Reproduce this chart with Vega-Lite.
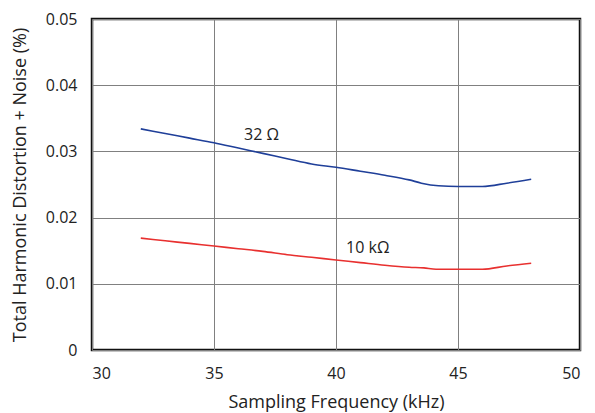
{
  "$schema": "https://vega.github.io/schema/vega-lite/v6.json",
  "width": 488,
  "height": 331,
  "autosize": {"type": "none"},
  "padding": {"left": 92, "top": 19, "right": 15, "bottom": 63},
  "background": "white",
  "config": {
    "view": {"stroke": "#111111", "strokeWidth": 2.5},
    "font": "Open Sans",
    "axis": {
      "grid": true,
      "gridColor": "#808080",
      "gridWidth": 1,
      "gridOpacity": 1,
      "domain": false,
      "ticks": false,
      "labelFont": "Open Sans",
      "labelFontSize": 16,
      "labelColor": "#222222",
      "titleFont": "Open Sans",
      "titleFontSize": 18,
      "titleFontWeight": "normal",
      "titleColor": "#222222"
    }
  },
  "datasets": {
    "curves": [
      {"freq": 32, "thd": 0.0334, "load": "32 Ω"},
      {"freq": 33, "thd": 0.0327, "load": "32 Ω"},
      {"freq": 34, "thd": 0.0320, "load": "32 Ω"},
      {"freq": 35, "thd": 0.0313, "load": "32 Ω"},
      {"freq": 36, "thd": 0.0305, "load": "32 Ω"},
      {"freq": 37, "thd": 0.0297, "load": "32 Ω"},
      {"freq": 38, "thd": 0.0289, "load": "32 Ω"},
      {"freq": 39, "thd": 0.0281, "load": "32 Ω"},
      {"freq": 40, "thd": 0.0276, "load": "32 Ω"},
      {"freq": 41, "thd": 0.0270, "load": "32 Ω"},
      {"freq": 42, "thd": 0.0264, "load": "32 Ω"},
      {"freq": 43, "thd": 0.0257, "load": "32 Ω"},
      {"freq": 43.5, "thd": 0.0252, "load": "32 Ω"},
      {"freq": 44.2, "thd": 0.0248, "load": "32 Ω"},
      {"freq": 45, "thd": 0.0247, "load": "32 Ω"},
      {"freq": 46, "thd": 0.0247, "load": "32 Ω"},
      {"freq": 47, "thd": 0.0252, "load": "32 Ω"},
      {"freq": 48, "thd": 0.0258, "load": "32 Ω"},
      {"freq": 32, "thd": 0.0169, "load": "10 kΩ"},
      {"freq": 33, "thd": 0.0165, "load": "10 kΩ"},
      {"freq": 34, "thd": 0.0161, "load": "10 kΩ"},
      {"freq": 35, "thd": 0.0157, "load": "10 kΩ"},
      {"freq": 36, "thd": 0.0153, "load": "10 kΩ"},
      {"freq": 37, "thd": 0.0149, "load": "10 kΩ"},
      {"freq": 38, "thd": 0.0144, "load": "10 kΩ"},
      {"freq": 39, "thd": 0.0140, "load": "10 kΩ"},
      {"freq": 40, "thd": 0.0136, "load": "10 kΩ"},
      {"freq": 41, "thd": 0.0132, "load": "10 kΩ"},
      {"freq": 42, "thd": 0.0128, "load": "10 kΩ"},
      {"freq": 43, "thd": 0.0125, "load": "10 kΩ"},
      {"freq": 43.6, "thd": 0.0124, "load": "10 kΩ"},
      {"freq": 44.1, "thd": 0.0122, "load": "10 kΩ"},
      {"freq": 45, "thd": 0.0122, "load": "10 kΩ"},
      {"freq": 46, "thd": 0.0122, "load": "10 kΩ"},
      {"freq": 47, "thd": 0.0127, "load": "10 kΩ"},
      {"freq": 48, "thd": 0.0131, "load": "10 kΩ"}
    ],
    "labels": [
      {"freq": 36.95, "thd": 0.0325, "text": "32 Ω"},
      {"freq": 41.3, "thd": 0.0154, "text": "10 kΩ"}
    ]
  },
  "layer": [
    {
      "data": {"name": "curves"},
      "mark": {"type": "line", "strokeWidth": 1.6, "interpolate": "monotone"},
      "encoding": {
        "x": {
          "field": "freq", "type": "quantitative",
          "scale": {"domain": [30, 50], "nice": false, "zero": false},
          "axis": {"values": [30, 35, 40, 45, 50], "labelPadding": 15, "title": "Sampling Frequency (kHz)", "titlePadding": 12}
        },
        "y": {
          "field": "thd", "type": "quantitative",
          "scale": {"domain": [0, 0.05], "nice": false},
          "axis": {"values": [0, 0.01, 0.02, 0.03, 0.04, 0.05], "format": "~g", "labelPadding": 15, "title": "Total Harmonic Distortion + Noise (%)", "titlePadding": 16}
        },
        "color": {
          "field": "load", "type": "nominal",
          "scale": {"domain": ["32 Ω", "10 kΩ"], "range": ["#1f3f99", "#e8302f"]},
          "legend": null
        }
      }
    },
    {
      "data": {"name": "labels"},
      "mark": {"type": "text", "font": "Open Sans", "fontSize": 16, "color": "#222222", "align": "center", "baseline": "middle"},
      "encoding": {
        "x": {"field": "freq", "type": "quantitative"},
        "y": {"field": "thd", "type": "quantitative"},
        "text": {"field": "text"}
      }
    }
  ]
}
